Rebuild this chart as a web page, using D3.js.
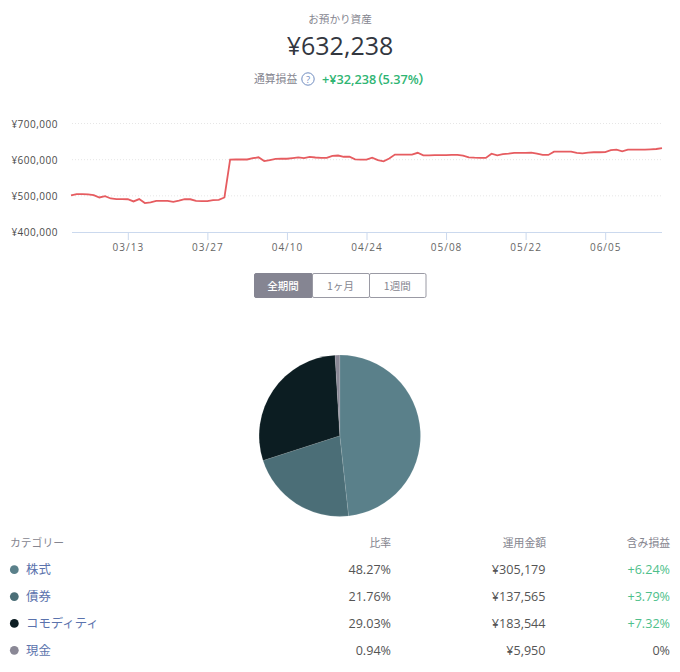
<!DOCTYPE html>
<html lang="ja">
<head>
  <meta charset="UTF-8">
  <title>お預かり資産</title>
  <script src="https://d3js.org/d3.v7.min.js"></script>
  <style>
    body { margin: 0; background: #fff; }
    text { font-family: "Open Sans", "Noto Sans CJK JP", sans-serif; }
    .jp { font-family: "Noto Sans CJK JP", sans-serif; }
    .axis .domain { stroke: #cbd9ee; }
    .axis line { stroke: #cbd9ee; }
    .axis text { fill: #666; font-size: 10px; letter-spacing: 1px; }
  </style>
</head>
<body>

<svg width="680" height="672"></svg>

<script>
  // Daily total assets, 03/03 to 06/15, in thousands of yen
  var assetValues = [
    501, 504.6, 504.6, 504, 502, 495.5, 499, 492.7, 491, 491,
    490.5, 484.5, 491, 480, 482, 486, 486, 486, 483.5, 487,
    491, 490.5, 486, 485.5, 485.5, 488, 489, 495.5, 600, 600.5,
    600.5, 600.5, 604, 606.5, 596, 599, 602, 602.5, 602.5, 604.5,
    606.5, 604.5, 607.5, 606, 605, 605, 610.5, 611.5, 608, 608,
    601, 600, 600, 605.5, 599, 595.5, 603, 614, 614, 614,
    614, 619, 612, 612, 612.5, 612.5, 612.5, 613, 613, 611,
    606.5, 605.5, 605, 605, 616.5, 612, 615.5, 616.5, 619, 619,
    619, 619.5, 616.5, 613, 613, 622, 622.5, 622.5, 622, 618.5,
    617.5, 619.5, 620.5, 620.5, 621, 626.5, 627.5, 623, 627.5, 627.5,
    627.5, 627.5, 628.5, 629.5, 632.2
  ];
  var firstDay = "03/03";
  var lastDay = "06/15";
  var dateTicks = ["03/13", "03/27", "04/10", "04/24", "05/08", "05/22", "06/05"];
  var yenTicks = [400, 500, 600, 700];

  var rangeLabels = ["全期間", "1ヶ月", "1週間"];

  var categories = ["株式", "債券", "コモディティ", "現金"];
  var ratios = [48.27, 21.76, 29.03, 0.94];
  var ratioLabels = ["48.27%", "21.76%", "29.03%", "0.94%"];
  var amounts = ["¥305,179", "¥137,565", "¥183,544", "¥5,950"];
  var gains = ["+6.24%", "+3.79%", "+7.32%", "0%"];
  var colors = ["#5a808a", "#4b6e77", "#0c1d22", "#8a8896"];

  var svg = d3.select("svg");
  var parseDay = d3.utcParse("%m/%d");
  var fmtYen = d3.format(",");

  // Header
  svg.append("text").attr("class", "jp")
    .attr("x", 340).attr("y", 23).attr("text-anchor", "middle")
    .attr("font-size", 10.6).attr("fill", "#85858f")
    .text("お預かり資産");
  svg.append("text")
    .attr("x", 340).attr("y", 55).attr("text-anchor", "middle")
    .attr("font-size", 25).attr("font-weight", 500).attr("fill", "#33373f")
    .text("¥632,238");
  svg.append("text").attr("class", "jp")
    .attr("x", 254).attr("y", 83)
    .attr("font-size", 10.8).attr("fill", "#85858f")
    .text("通算損益");
  svg.append("circle")
    .attr("cx", 308).attr("cy", 79).attr("r", 6.2)
    .attr("fill", "none").attr("stroke", "#6f8cc0");
  svg.append("text")
    .attr("x", 308).attr("y", 82.5).attr("text-anchor", "middle")
    .attr("font-size", 9.5).attr("fill", "#6f8cc0")
    .text("?");
  svg.append("text")
    .attr("x", 322).attr("y", 83.5)
    .attr("font-size", 12.7).attr("font-weight", 600).attr("fill", "#2fb573")
    .style("font-feature-settings", '"palt"')
    .text("+¥32,238（5.37%）");

  // Line chart
  var x = d3.scaleUtc()
    .domain([parseDay(firstDay), parseDay(lastDay)])
    .range([71, 662]);
  var y = d3.scaleLinear().domain([400, 700]).range([232, 123.5]);
  var days = d3.utcDay.range(parseDay(firstDay), d3.utcDay.offset(parseDay(lastDay), 1));

  svg.append("g").selectAll("line")
    .data(yenTicks.slice(1))
    .join("line")
    .attr("x1", 72).attr("x2", 662)
    .attr("y1", d => y(d)).attr("y2", d => y(d))
    .attr("stroke", "#e6e6e6").attr("stroke-dasharray", "1 2");

  svg.append("g").selectAll("text")
    .data(yenTicks)
    .join("text")
    .attr("x", 58).attr("y", d => y(d) + 4)
    .attr("text-anchor", "end")
    .attr("font-size", 10).attr("letter-spacing", 0.5).attr("fill", "#4a4a4a")
    .text(d => "¥" + fmtYen(d * 1000));

  var xAxis = d3.axisBottom(x)
    .tickValues(dateTicks.map(parseDay))
    .tickFormat(d3.utcFormat("%m/%d"))
    .tickSize(8)
    .tickSizeOuter(0);
  var axisG = svg.append("g").attr("class", "axis")
    .attr("transform", "translate(0," + y(400) + ")")
    .call(xAxis);
  axisG.select(".domain").attr("d", "M72,0.5H662");
  axisG.selectAll("text").attr("y", 12);

  var line = d3.line()
    .x((d, i) => x(days[i]))
    .y(d => y(d));
  svg.append("path")
    .datum(assetValues)
    .attr("d", line)
    .attr("fill", "none")
    .attr("stroke", "#e65c60")
    .attr("stroke-width", 1.8);

  // Range buttons
  var btnEdges = [254, 312, 369, 425.5];
  var btn = svg.append("g");
  btn.selectAll("rect")
    .data(rangeLabels)
    .join("rect")
    .attr("x", (d, i) => btnEdges[i] + 0.5)
    .attr("y", 273.5)
    .attr("width", (d, i) => btnEdges[i + 1] - btnEdges[i])
    .attr("height", 24)
    .attr("rx", 1.5)
    .attr("fill", (d, i) => i === 0 ? "#858592" : "#fff")
    .attr("stroke", (d, i) => i === 0 ? "#858592" : "#9a9aa4");
  btn.selectAll("text")
    .data(rangeLabels)
    .join("text")
    .attr("class", "jp")
    .attr("x", (d, i) => (btnEdges[i] + btnEdges[i + 1]) / 2)
    .attr("y", 289.5)
    .attr("text-anchor", "middle")
    .attr("font-size", 10.5)
    .attr("font-weight", (d, i) => i === 0 ? 500 : 400)
    .attr("fill", (d, i) => i === 0 ? "#fff" : "#85858f")
    .text(d => d);

  // Pie
  var pie = d3.pie().sort(null).value(d => d);
  var arc = d3.arc().innerRadius(0).outerRadius(80.7);
  svg.append("g")
    .attr("transform", "translate(339.8,435.7)")
    .selectAll("path")
    .data(pie(ratios))
    .join("path")
    .attr("d", arc)
    .attr("fill", (d, i) => colors[i])
    .attr("stroke", "#fff")
    .attr("stroke-opacity", 0.2)
    .attr("stroke-width", 0.5);

  // Table
  var headers = [
    { t: "カテゴリー", x: 10, a: "start" },
    { t: "比率", x: 391, a: "end" },
    { t: "運用金額", x: 546, a: "end" },
    { t: "含み損益", x: 670, a: "end" }
  ];
  svg.append("g").selectAll("text")
    .data(headers)
    .join("text")
    .attr("class", "jp")
    .attr("x", d => d.x).attr("y", 547)
    .attr("text-anchor", d => d.a)
    .attr("font-size", 10.8).attr("fill", "#85858f")
    .text(d => d.t);

  var rowY = d3.scalePoint().domain(categories).range([569.7, 650.3]);
  var rows = svg.append("g").selectAll("g")
    .data(categories)
    .join("g")
    .attr("transform", d => "translate(0," + rowY(d) + ")");
  rows.append("circle")
    .attr("cx", 14.3).attr("r", 4.4)
    .attr("fill", (d, i) => colors[i]);
  rows.append("text").attr("class", "jp")
    .attr("x", 26).attr("y", 4.5)
    .attr("font-size", 12.4).attr("fill", "#5b73ad")
    .text(d => d);
  rows.append("text")
    .attr("x", 391).attr("y", 4.4).attr("text-anchor", "end")
    .attr("font-size", 12.6).attr("fill", "#555")
    .text((d, i) => ratioLabels[i]);
  rows.append("text")
    .attr("x", 545.5).attr("y", 4.4).attr("text-anchor", "end")
    .attr("font-size", 12.6).attr("fill", "#555")
    .text((d, i) => amounts[i]);
  rows.append("text")
    .attr("x", 670).attr("y", 4.4).attr("text-anchor", "end")
    .attr("font-size", 12.6)
    .attr("fill", (d, i) => gains[i] === "0%" ? "#555" : "#4fbf8b")
    .text((d, i) => gains[i]);
</script>

</body>
</html>
